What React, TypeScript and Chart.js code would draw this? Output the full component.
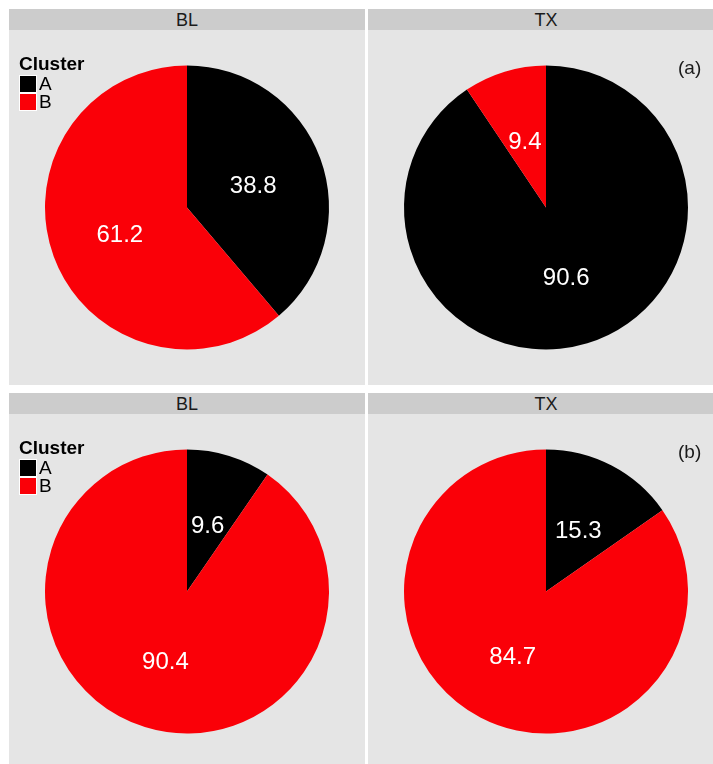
import React, { useEffect, useRef } from "react";
import { Chart, registerables } from "chart.js";

Chart.register(...registerables);

// ---- data ----
const clusters = ["A", "B"];
const sites = ["BL", "TX"];
const rowTags = ["(a)", "(b)"];
const rowA_BL = [38.8, 61.2];
const rowA_TX = [90.6, 9.4];
const rowB_BL = [9.6, 90.4];
const rowB_TX = [15.3, 84.7];
const clusterColors = ["#000000", "#FA0008"];

const FONT = "'Liberation Sans', Arial, Helvetica, sans-serif";
const PANEL_W = 356;
const PANEL_H = 355;
const STRIP_H = 21;

const sliceLabelPlugin = {
  id: "sliceLabels",
  afterDatasetsDraw(chart: any) {
    const ctx = chart.ctx;
    const meta = chart.getDatasetMeta(0);
    const values = chart.data.datasets[0].data;
    ctx.save();
    ctx.fillStyle = "#FFFFFF";
    ctx.font = `24px ${FONT}`;
    ctx.textAlign = "center";
    ctx.textBaseline = "middle";
    meta.data.forEach((arc: any, i: number) => {
      const p = arc.getProps(["x", "y", "startAngle", "endAngle", "outerRadius"], true);
      const mid = (p.startAngle + p.endAngle) / 2;
      const r = p.outerRadius * 0.5;
      const x = p.x + Math.cos(mid) * r - 0.5;
      const y = p.y + Math.sin(mid) * r + 3;
      ctx.fillText(Number(values[i]).toFixed(1), x, y);
    });
    ctx.restore();
  },
};

function PiePanel(props: { values: number[] }) {
  const ref = useRef<HTMLCanvasElement | null>(null);
  useEffect(() => {
    if (!ref.current) return;
    const chart = new Chart(ref.current, {
      type: "pie",
      data: {
        labels: clusters,
        datasets: [
          {
            data: props.values,
            backgroundColor: clusterColors,
            borderWidth: 0,
          },
        ],
      },
      options: {
        responsive: false,
        animation: false,
        devicePixelRatio: 1,
        radius: 142,
        layout: { padding: 0 },
        plugins: {
          legend: { display: false },
          tooltip: { enabled: false },
          title: { display: false },
        },
      } as any,
      plugins: [sliceLabelPlugin],
    });
    return () => chart.destroy();
  }, [props.values]);
  return (
    <canvas
      ref={ref}
      width={PANEL_W}
      height={PANEL_H}
      style={{ position: "absolute", left: 0, top: 0, width: PANEL_W, height: PANEL_H }}
    />
  );
}

function Legend() {
  return (
    <div style={{ position: "absolute", left: 10, top: 24, fontFamily: FONT, color: "#000" }}>
      <div style={{ fontWeight: "bold", fontSize: 19, lineHeight: "19px", height: 21 }}>Cluster</div>
      {clusters.map((c, i) => (
        <div key={c} style={{ display: "flex", alignItems: "center", height: 18 }}>
          <div
            style={{
              width: 18,
              height: 18,
              background: clusterColors[i],
              boxSizing: "border-box",
              border: "0.5px solid #FFFFFF",
            }}
          />
          <div style={{ fontSize: 19, lineHeight: "18px", marginLeft: 2 }}>{c}</div>
        </div>
      ))}
    </div>
  );
}

function Facet(props: {
  left: number;
  top: number;
  site: string;
  values: number[];
  legend: boolean;
  tag?: string;
}) {
  return (
    <div style={{ position: "absolute", left: props.left, top: props.top, width: PANEL_W }}>
      <div
        style={{
          height: STRIP_H,
          background: "#CCCCCC",
          color: "#1A1A1A",
          fontFamily: FONT,
          fontSize: 18,
          lineHeight: "22px",
          textAlign: "center",
        }}
      >
        {props.site}
      </div>
      <div style={{ position: "relative", width: PANEL_W, height: PANEL_H, background: "#E5E5E5" }}>
        <PiePanel values={props.values} />
        {props.legend && <Legend />}
        {props.tag && (
          <div
            style={{
              position: "absolute",
              left: 310,
              top: 27,
              fontFamily: FONT,
              fontSize: 19,
              lineHeight: "22px",
              color: "#1A1A1A",
            }}
          >
            {props.tag}
          </div>
        )}
      </div>
    </div>
  );
}

export default function App() {
  return (
    <div
      style={{
        position: "fixed",
        left: 0,
        top: 0,
        width: 713,
        height: 764,
        background: "#FFFFFF",
        overflow: "hidden",
      }}
    >
      <Facet left={9} top={9} site={sites[0]} values={rowA_BL} legend={true} />
      <Facet left={368} top={9} site={sites[1]} values={rowA_TX} legend={false} tag={rowTags[0]} />
      <Facet left={9} top={393} site={sites[0]} values={rowB_BL} legend={true} />
      <Facet left={368} top={393} site={sites[1]} values={rowB_TX} legend={false} tag={rowTags[1]} />
    </div>
  );
}
